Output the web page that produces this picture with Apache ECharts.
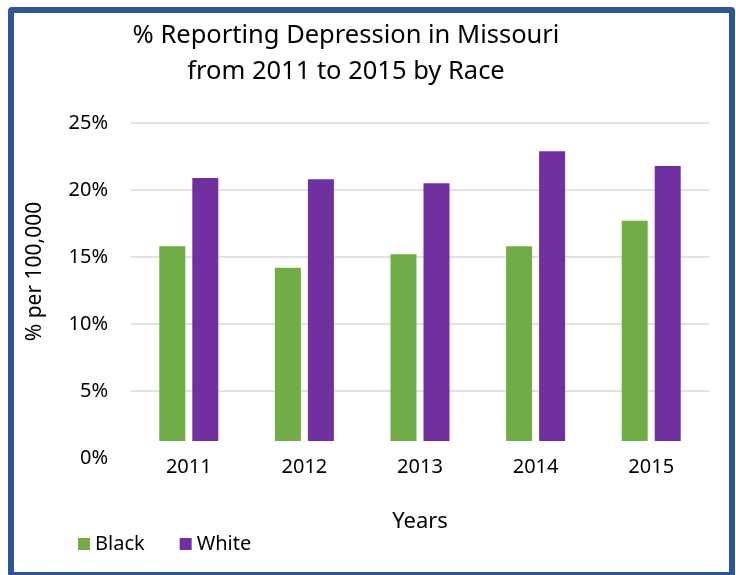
<!DOCTYPE html>
<html>
<head>
<meta charset="utf-8">
<script src="https://cdn.jsdelivr.net/npm/echarts@6/dist/echarts.min.js"></script>
<style>
html,body{margin:0;padding:0;background:#fff;}
#chart{width:736px;height:575px;position:absolute;left:0;top:0;}
#frame{position:absolute;left:8px;top:7px;width:727px;height:571px;box-sizing:border-box;border:6px solid #2F5597;border-radius:4px;pointer-events:none;}
</style>
</head>
<body>
<div id="chart"></div>
<div id="frame"></div>
<script>
const categories = ['2011', '2012', '2013', '2014', '2015'];
const black = [15.8, 14.2, 15.2, 15.8, 17.7];
const white = [20.9, 20.8, 20.5, 22.9, 21.8];
const yTicks = [0, 5, 10, 15, 20, 25];

const font = 'Noto Sans';
const chart = echarts.init(document.getElementById('chart'));
chart.setOption({
  animation: false,
  backgroundColor: '#fff',
  title: {
    text: '% Reporting Depression in Missouri\nfrom 2011 to 2015 by Race',
    left: 341, top: 13, textAlign: 'center',
    textStyle: { fontFamily: font, fontSize: 25.5, fontWeight: 'normal', color: '#000', lineHeight: 36 }
  },
  legend: {
    left: 73, top: 529, itemWidth: 12, itemHeight: 12, itemGap: 35, icon: 'rect',
    textStyle: { fontFamily: font, fontSize: 20, color: '#000' },
    data: ['Black', 'White']
  },
  grid: { left: 131, right: 27, top: 123, bottom: 117 },
  xAxis: {
    type: 'category', data: categories, z: 10,
    name: 'Years', nameLocation: 'middle', nameGap: 53,
    nameTextStyle: { fontFamily: font, fontSize: 22, color: '#000' },
    axisLine: { show: false }, axisTick: { show: false },
    axisLabel: {
      interval: 0, margin: -17, fontFamily: font, fontSize: 20, color: '#000',
      backgroundColor: '#fff', width: 116, lineHeight: 20, padding: [16, 0, 4, 0], align: 'center'
    }
  },
  yAxis: {
    type: 'value', min: 0, max: 25, interval: 5,
    name: '% per 100,000', nameLocation: 'middle', nameGap: 85, nameRotate: 90,
    nameTextStyle: { fontFamily: font, fontSize: 21, color: '#000', padding: [0, 0, 0, 38] },
    axisLine: { show: false }, axisTick: { show: false },
    axisLabel: { margin: 23, fontFamily: font, fontSize: 20, color: '#000',
      formatter: v => yTicks.includes(v) ? v + '%' : '' },
    splitLine: { lineStyle: { color: '#d9d9d9', width: 1.5 } }
  },
  series: [
    { name: 'Black', type: 'bar', data: black, barWidth: 26, barGap: '27%', itemStyle: { color: '#70AD47' } },
    { name: 'White', type: 'bar', data: white, barWidth: 26, itemStyle: { color: '#7030A0' } }
  ]
});
</script>
</body>
</html>
